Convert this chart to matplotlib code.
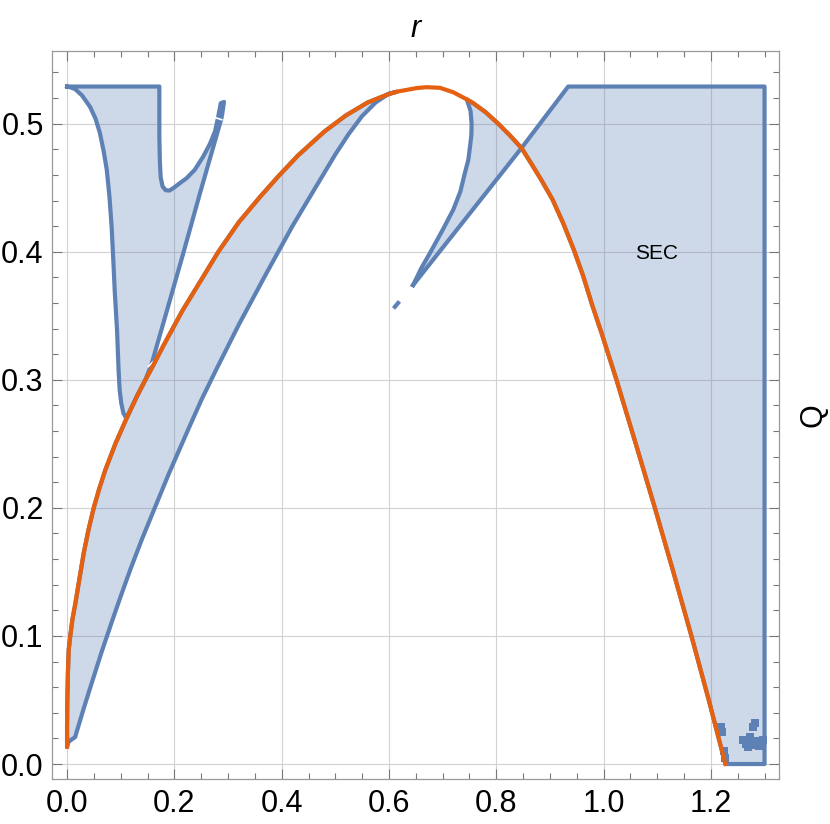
import numpy as np
import matplotlib.pyplot as plt
from matplotlib.ticker import MultipleLocator, FormatStrFormatter

plt.rcParams['font.family'] = ['Liberation Sans', 'DejaVu Sans']

# orange boundary curve Q(r)
orange_r = [0.0, 0.0, 0.0005, 0.0015, 0.003, 0.006, 0.010, 0.0155, 0.022, 0.031,
            0.040, 0.0497, 0.060, 0.0714, 0.090, 0.112, 0.130, 0.146, 0.1565,
            0.180, 0.215, 0.250, 0.282, 0.320, 0.360, 0.394, 0.430, 0.480,
            0.520, 0.560, 0.5987, 0.615, 0.6516, 0.67, 0.695, 0.720, 0.745,
            0.757, 0.780, 0.8036, 0.825, 0.847, 0.865, 0.884, 0.905, 0.925,
            0.945, 0.962, 0.979, 0.9962, 1.024, 1.060, 1.0956, 1.130, 1.164,
            1.196, 1.227]
orange_q = [0.0135, 0.030, 0.050, 0.070, 0.089, 0.100, 0.113, 0.1255, 0.142, 0.1646,
            0.183, 0.200, 0.215, 0.2297, 0.250, 0.271, 0.287, 0.300, 0.308,
            0.327, 0.354, 0.378, 0.400, 0.423, 0.443, 0.459, 0.475, 0.494,
            0.5065, 0.5165, 0.523, 0.525, 0.5278, 0.5285, 0.528, 0.5245, 0.519,
            0.516, 0.509, 0.500, 0.491, 0.481, 0.469, 0.456, 0.4406, 0.422,
            0.401, 0.381, 0.358, 0.3365, 0.300, 0.250, 0.200, 0.150, 0.0995,
            0.050, 0.0]

# lower blue edge of the band under the orange curve
band_r = [0.0025, 0.015, 0.030, 0.045, 0.064, 0.085, 0.100, 0.118, 0.140, 0.1615,
          0.190, 0.2266, 0.250, 0.278, 0.320, 0.370, 0.420, 0.4714, 0.500, 0.525,
          0.550, 0.575, 0.600, 0.615]
band_q = [0.0174, 0.021, 0.042, 0.062, 0.087, 0.113, 0.131, 0.152, 0.176, 0.198,
          0.227, 0.262, 0.284, 0.308, 0.343, 0.382, 0.420, 0.456, 0.476, 0.492,
          0.506, 0.5165, 0.5235, 0.525]

# outline of the upper-left region
v_r = [0.0, 0.172, 0.172, 0.173, 0.1745, 0.178, 0.184, 0.191, 0.198, 0.210,
       0.223, 0.238, 0.254, 0.266, 0.2758, 0.2815, 0.2865, 0.2925, 0.289, 0.287,
       0.2478, 0.2167, 0.1857, 0.158, 0.146, 0.130, 0.112, 0.109, 0.105, 0.101,
       0.098, 0.096, 0.093, 0.089, 0.086, 0.083, 0.079, 0.074, 0.068, 0.061,
       0.053, 0.043, 0.028, 0.015, 0.005]
v_q = [0.529, 0.529, 0.490, 0.470, 0.458, 0.451, 0.448, 0.4478, 0.4497, 0.4535,
       0.4575, 0.464, 0.4745, 0.484, 0.494, 0.505, 0.516, 0.517, 0.507, 0.503,
       0.4458, 0.399, 0.3534, 0.313, 0.300, 0.287, 0.271, 0.271, 0.274, 0.2818,
       0.292, 0.308, 0.340, 0.368, 0.395, 0.420, 0.443, 0.464, 0.479, 0.493,
       0.504, 0.513, 0.522, 0.527, 0.5285]

# curved left edge of the small horn near the top
horn_r = [0.645, 0.660, 0.6764, 0.700, 0.720, 0.733, 0.7415, 0.748, 0.751, 0.7535,
          0.754, 0.752, 0.745]
horn_q = [0.374, 0.387, 0.399, 0.417, 0.433, 0.447, 0.4615, 0.472, 0.482, 0.491,
          0.500, 0.510, 0.519]

# SEC region corners (straight line, top, right, bottom)
sec_r = [0.847, 0.934, 1.30, 1.30, 1.227]
sec_q = [0.481, 0.529, 0.529, 0.0, 0.0]

# small stray pieces
dash_r = [0.611, 0.617]
dash_q = [0.357, 0.360]
speck_r = [1.219, 1.221, 1.224, 1.226, 1.260, 1.266, 1.272, 1.278, 1.284, 1.290,
           1.270, 1.279, 1.283, 1.297]
speck_q = [0.029, 0.025, 0.010, 0.005, 0.019, 0.016, 0.021, 0.015, 0.018, 0.014,
           0.013, 0.029, 0.032, 0.019]
gap1_r, gap1_q = [0.2726, 0.2882], [0.5052, 0.5031]
gap2_r, gap2_q = [0.1515, 0.161], [0.3104, 0.3143]

blue = '#5E81B5'
orange = '#E5600F'

o_r = np.array(orange_r)
o_q = np.array(orange_q)

# build the regions
left = o_r <= 0.615
band_x = np.concatenate([band_r, o_r[left][::-1]])
band_y = np.concatenate([band_q, o_q[left][::-1]])

mid = (o_r > 0.745) & (o_r <= 0.847)
horn_x = np.concatenate([horn_r, o_r[mid]])
horn_y = np.concatenate([horn_q, o_q[mid]])

right = (o_r > 0.847) & (o_r < 1.227)
sec_x = np.concatenate([sec_r, o_r[right][::-1]])
sec_y = np.concatenate([sec_q, o_q[right][::-1]])

fig = plt.figure(figsize=(8.3, 8.24), dpi=100)
ax = fig.add_axes([0.0627, 0.0546, 0.8759, 0.8839])

for x, y in [(band_x, band_y), (np.array(v_r), np.array(v_q)),
             (horn_x, horn_y), (sec_x, sec_y)]:
    ax.fill(x, y, facecolor=blue, alpha=0.31, edgecolor='none', zorder=2)
    ax.plot(np.append(x, x[0]), np.append(y, y[0]), color=blue, lw=3.0,
            zorder=3)

ax.plot(dash_r, dash_q, color=blue, lw=3.0, zorder=3)
ax.scatter(speck_r, speck_q, s=30, marker='s', color=blue, lw=0, zorder=3)
ax.plot(gap1_r, gap1_q, color='white', lw=1.2, zorder=3.5)
ax.plot(gap2_r, gap2_q, color='white', lw=1.2, zorder=3.5)

ax.plot(orange_r, orange_q, color=orange, lw=3.0, zorder=4)

ax.text(1.099, 0.399, 'SEC', fontsize=15, ha='center', va='center', zorder=5)

ax.set_xlim(-0.028, 1.327)
ax.set_ylim(-0.0117, 0.557)
ax.xaxis.set_major_locator(MultipleLocator(0.2))
ax.xaxis.set_minor_locator(MultipleLocator(0.05))
ax.yaxis.set_major_locator(MultipleLocator(0.1))
ax.yaxis.set_minor_locator(MultipleLocator(0.02))
ax.xaxis.set_major_formatter(FormatStrFormatter('%.1f'))
ax.yaxis.set_major_formatter(FormatStrFormatter('%.1f'))
ax.tick_params(which='both', direction='in', top=True, right=True,
               color='#777777', width=0.8, labelsize=22)
ax.tick_params(which='major', length=7)
ax.tick_params(which='minor', length=4)
ax.tick_params(axis='x', pad=7)
ax.tick_params(axis='y', pad=6)
for s in ax.spines.values():
    s.set_color('#999999')
    s.set_linewidth(0.9)

ax.grid(which='major', color='#d2d2d2', lw=0.8)
ax.set_axisbelow(True)

ax.xaxis.set_label_position('top')
ax.set_xlabel('r', fontsize=22, style='italic', labelpad=10)
ax.yaxis.set_label_position('right')
ax.set_ylabel('Q', fontsize=22, labelpad=14)

plt.savefig('out.png', dpi=100)
